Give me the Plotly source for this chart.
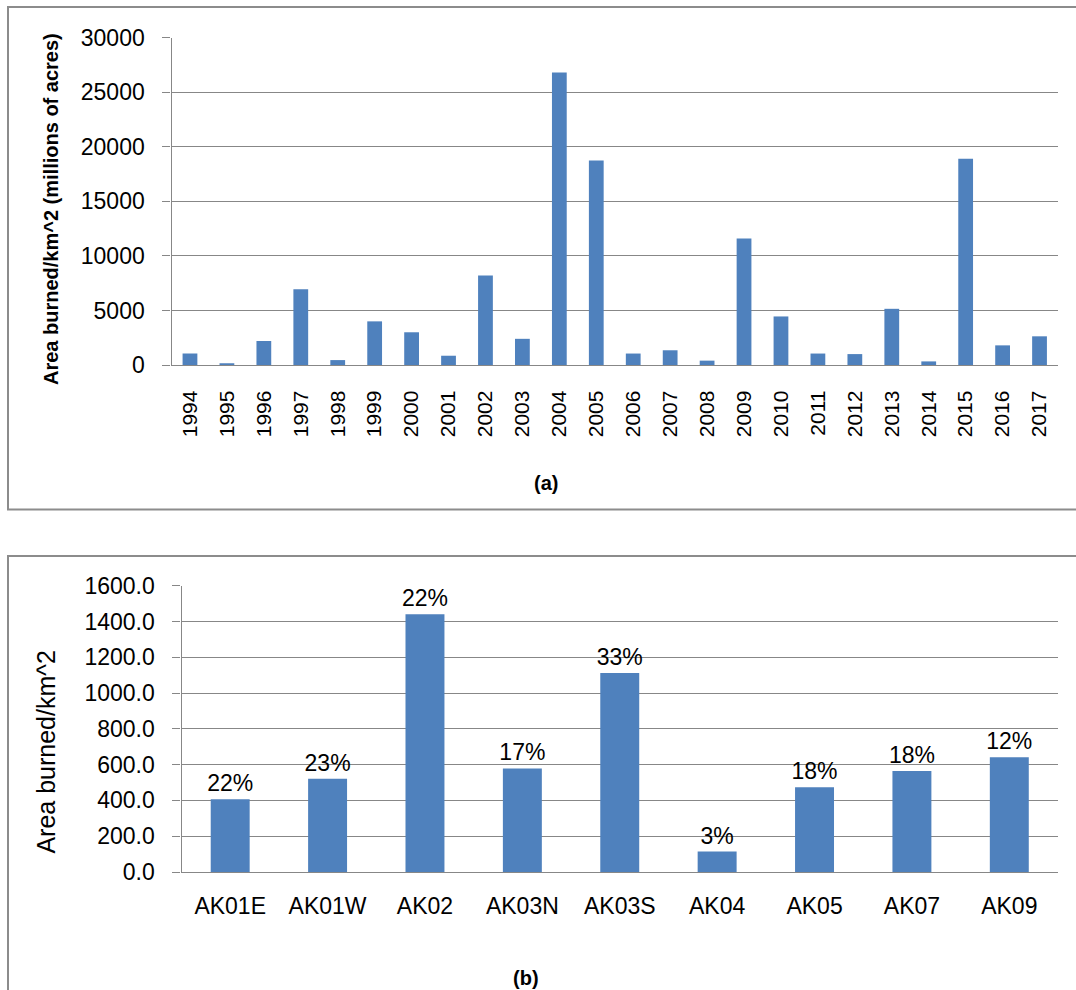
import plotly.graph_objects as go

# ---- Data: panel (a) ----
years = [str(y) for y in range(1994, 2018)]
area_by_year = [1050, 150, 2200, 6950, 450, 4000, 3000, 850, 8200, 2400,
                26800, 18750, 1050, 1350, 400, 11600, 4450, 1050, 1000, 5150,
                330, 18900, 1800, 2630]

# ---- Data: panel (b) ----
zones = ["AK01E", "AK01W", "AK02", "AK03N", "AK03S", "AK04", "AK05", "AK07", "AK09"]
area_by_zone = [407, 521, 1441, 579, 1112, 114, 473, 564, 641]
pct_labels = ["22%", "23%", "22%", "17%", "33%", "3%", "18%", "18%", "12%"]

W, H = 1076, 990
BAR = "#4F81BD"
GRID = "#878787"
FONT = "Liberation Sans, Arial, sans-serif"

def px_x(p):
    return p / W

def px_y(p):
    return 1 - p / H

fig = go.Figure()

fig.add_trace(go.Bar(x=years, y=area_by_year, marker=dict(color=BAR, line=dict(width=0)),
                     xaxis="x", yaxis="y", showlegend=False))
fig.add_trace(go.Bar(x=zones, y=area_by_zone, marker=dict(color=BAR, line=dict(width=0)),
                     text=pct_labels, textposition="outside", cliponaxis=False,
                     constraintext="none",
                     textfont=dict(size=23, color="black", family=FONT),
                     xaxis="x2", yaxis="y2", showlegend=False))

common_y = dict(showgrid=True, gridcolor=GRID, gridwidth=1.3, showline=True, linecolor=GRID,
                linewidth=1.3, ticks="outside", ticklen=8, tickcolor=GRID, tickwidth=1.3,
                zeroline=False, tickfont=dict(size=23, color="black", family=FONT),
                ticklabelstandoff=13, automargin=False)
common_x = dict(type="category", showgrid=False, showline=True, linecolor=GRID, linewidth=1.3,
                ticks="", zeroline=False, automargin=False)

fig.update_layout(
    template="none",
    width=W, height=H,
    margin=dict(l=0, r=0, t=0, b=0, pad=0, autoexpand=False),
    paper_bgcolor="white", plot_bgcolor="white",
    font=dict(family=FONT, color="black"),
    bargap=0.6,
    xaxis=dict(domain=[px_x(171.5), px_x(1058)], anchor="y", tickangle=-90,
               tickmode="array", tickvals=years, ticktext=years,
               tickfont=dict(size=21, color="black", family=FONT), ticklabelstandoff=16,
               **common_x),
    yaxis=dict(domain=[px_y(365), px_y(37.7)], anchor="x", range=[0, 30000], dtick=5000,
               tickformat="d", **common_y),
    xaxis2=dict(domain=[px_x(181.5), px_x(1058)], anchor="y2",
                tickfont=dict(size=23, color="black", family=FONT), ticklabelstandoff=13,
                **common_x),
    yaxis2=dict(domain=[px_y(872), px_y(585.7)], anchor="x2", range=[0, 1600], dtick=200,
                tickformat=".1f", **common_y),
)

# panel borders
fig.add_shape(type="rect", xref="paper", yref="paper",
              x0=px_x(8), x1=px_x(1090), y0=px_y(509.5), y1=px_y(7),
              line=dict(color="#8c8c8c", width=2), fillcolor="rgba(0,0,0,0)", layer="below")
fig.add_shape(type="rect", xref="paper", yref="paper",
              x0=px_x(8), x1=px_x(1090), y0=px_y(1010), y1=px_y(556),
              line=dict(color="#8c8c8c", width=2), fillcolor="rgba(0,0,0,0)", layer="below")

# axis titles and panel captions
fig.add_annotation(text="<b>Area burned/km^2 (millions of acres)</b>", textangle=-90,
                   x=px_x(51.5), y=px_y(209.5), xref="paper", yref="paper",
                   xanchor="center", yanchor="middle", showarrow=False,
                   font=dict(size=20, color="black", family=FONT))
fig.add_annotation(text="Area burned/km^2", textangle=-90,
                   x=px_x(45.6), y=px_y(752), xref="paper", yref="paper",
                   xanchor="center", yanchor="middle", showarrow=False,
                   font=dict(size=25, color="black", family=FONT))
fig.add_annotation(text="<b>(a)</b>", x=px_x(546), y=px_y(483), xref="paper", yref="paper",
                   xanchor="center", yanchor="middle", showarrow=False,
                   font=dict(size=20, color="black", family=FONT))
fig.add_annotation(text="<b>(b)</b>", x=px_x(526), y=px_y(978), xref="paper", yref="paper",
                   xanchor="center", yanchor="middle", showarrow=False,
                   font=dict(size=20, color="black", family=FONT))

fig.write_html("out.html", config={"displayModeBar": False},
               post_script="document.body.style.margin='0';document.body.style.overflow='hidden';")
